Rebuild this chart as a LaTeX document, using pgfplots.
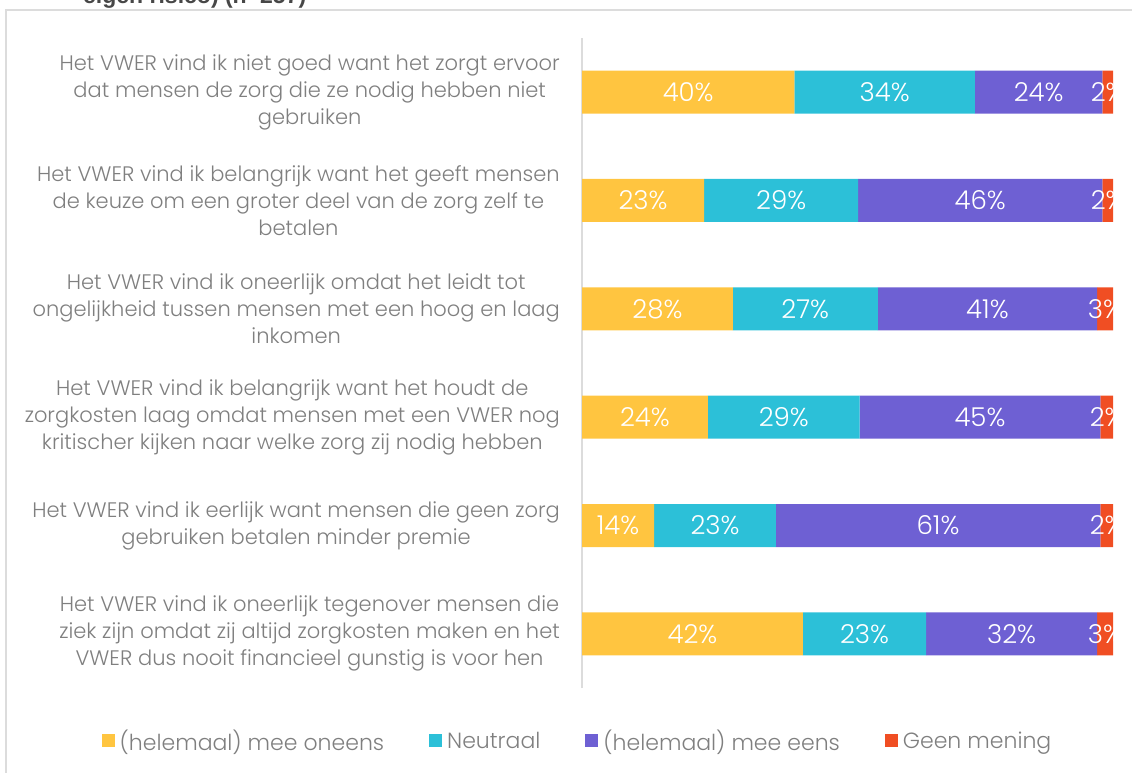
\documentclass[border=0pt]{standalone}
\usepackage{pgfplots}
\pgfplotsset{compat=1.18}
\usepackage{fontspec}
\setmainfont{Poppins Light}
\newfontfamily\titlefont{Liberation Sans}

\definecolor{cYel}{HTML}{FFC540}
\definecolor{cCya}{HTML}{2CC0D8}
\definecolor{cPur}{HTML}{6E60D3}
\definecolor{cRed}{HTML}{F04E23}
\definecolor{txtgray}{HTML}{7F7F7F}
\definecolor{linegray}{HTML}{DCDCDC}

% rows bottom (1) to top (6); values in percent
\pgfplotstableread{
y  oneens neutraal eens geen
1  41.6   23.2     32.2 3.0
2  13.6   22.9     61.1 2.4
3  23.7   28.6     45.3 2.4
4  28.4   27.3     41.3 3.0
5  23     29       46   2
6  40     34       24   2
}\datatable

\begin{document}
\begin{tikzpicture}[x=1pt,y=1pt]
\clip (0,0) rectangle (1132,772);
\draw[linegray, line width=1.5pt] (6,-5) -- (6,762) -- (1140,762);
\node[anchor=base west, inner sep=0pt, text=black!72,
      font=\titlefont\bfseries\fontsize{23}{27}\selectfont] at (83,768) {eigen risico) (n=257)};
\begin{axis}[
  at={(582pt,84pt)}, anchor=south west,
  width=531pt, height=650pt, scale only axis,
  xbar stacked, bar width=43pt,
  xmin=0, xmax=100, ymin=0.5, ymax=6.5,
  axis x line=none,
  axis y line*=left,
  y axis line style={draw=linegray, line width=2pt, -},
  ytick={1,...,6},
  ytick style={draw=none},
  yticklabels={
    {Het VWER vind ik oneerlijk tegenover mensen die\\ziek zijn omdat zij altijd zorgkosten maken en het\\VWER dus nooit financieel gunstig is voor hen},
    {Het VWER vind ik eerlijk want mensen die geen zorg\\gebruiken betalen minder premie},
    {Het VWER vind ik belangrijk want het houdt de\\zorgkosten laag omdat mensen met een VWER nog\\kritischer kijken naar welke zorg zij nodig hebben},
    {Het VWER vind ik oneerlijk omdat het leidt tot\\ongelijkheid tussen mensen met een hoog en laag\\inkomen},
    {Het VWER vind ik belangrijk want het geeft mensen\\de keuze om een groter deel van de zorg zelf te\\betalen},
    {Het VWER vind ik niet goed want het zorgt ervoor\\dat mensen de zorg die ze nodig hebben niet\\gebruiken}
  },
  yticklabel style={align=center, anchor=east, inner sep=0pt, xshift=-22pt,
    text=txtgray, font=\fontsize{21}{27}\selectfont},
  /pgf/number format/assume math mode=true,
  point meta=explicit,
  nodes near coords={\pgfmathprintnumber[fixed,precision=0]{\pgfplotspointmeta}\%},
  every node near coord/.append style={anchor=center, text=white,
    font=\fontsize{26}{30}\selectfont},
  legend columns=4,
  legend style={at={(axis description cs:-0.0056,-0.0815)}, anchor=center,
    draw=none, fill=none, text=txtgray, font=\fontsize{22}{26}\selectfont,
    nodes={inner xsep=5pt},
    /tikz/every even column/.append style={column sep=40pt}},
  legend image code/.code={\fill[#1] (0pt,-6.5pt) rectangle (13pt,6.5pt);},
]
\addplot[fill=cYel, draw=none] table[x=oneens, y=y, meta=oneens] {\datatable};
\addplot[fill=cCya, draw=none] table[x=neutraal, y=y, meta=neutraal] {\datatable};
\addplot[fill=cPur, draw=none] table[x=eens, y=y, meta=eens] {\datatable};
\addplot[fill=cRed, draw=none] table[x=geen, y=y, meta=geen] {\datatable};
\legend{(helemaal) mee oneens, Neutraal, (helemaal) mee eens, Geen mening}
\end{axis}
\end{tikzpicture}
\end{document}
